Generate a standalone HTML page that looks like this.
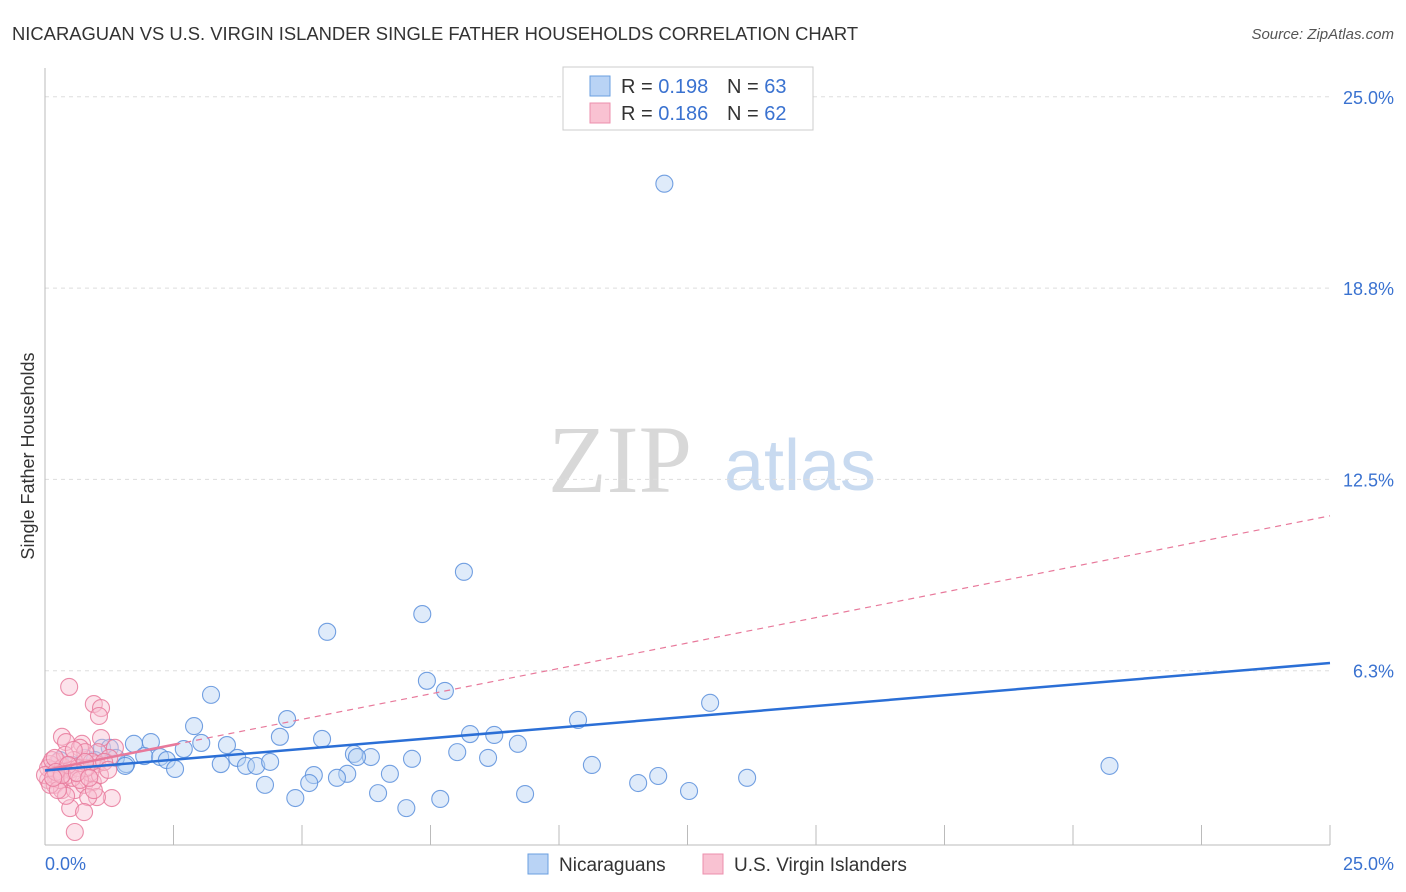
<!DOCTYPE html>
<html><head><meta charset="utf-8"><style>
body{margin:0;background:#fff;font-family:"Liberation Sans",sans-serif;}
#wrap{position:relative;width:1406px;height:892px;overflow:hidden;}
</style></head><body>
<div id="wrap">
<svg id="chart" width="1406" height="892" xmlns="http://www.w3.org/2000/svg">
<text x="12" y="40" font-size="18.4" fill="#333">NICARAGUAN VS U.S. VIRGIN ISLANDER SINGLE FATHER HOUSEHOLDS CORRELATION CHART</text>
<text x="1394" y="39" font-size="15" fill="#555" font-style="italic" text-anchor="end">Source: ZipAtlas.com</text>
<text x="620" y="492" font-size="96" fill="#d8d8d8" font-family="Liberation Serif,serif" text-anchor="middle">ZIP</text>
<text x="800" y="490" font-size="72" fill="#c8daf0" text-anchor="middle">atlas</text>
<text transform="translate(34,456) rotate(-90)" font-size="18" fill="#333" text-anchor="middle">Single Father Households</text>
<g id="grid"></g><g id="axes"></g><g id="marks"></g>
<rect x="563" y="67" width="250" height="63" fill="#fff" stroke="#ccc"/>
<rect x="590" y="76" width="20" height="20" fill="#b9d3f5" stroke="#6a9fe0"/>
<text x="621" y="93" font-size="20" fill="#333">R = <tspan fill="#3a72d0">0.198</tspan></text>
<text x="727" y="93" font-size="20" fill="#333">N = <tspan fill="#3a72d0">63</tspan></text>
<rect x="590" y="103" width="20" height="20" fill="#f9c2d2" stroke="#ec8fac"/>
<text x="621" y="120" font-size="20" fill="#333">R = <tspan fill="#3a72d0">0.186</tspan></text>
<text x="727" y="120" font-size="20" fill="#333">N = <tspan fill="#3a72d0">62</tspan></text>
<text x="45" y="870" font-size="18" fill="#3a72d0">0.0%</text>
<text x="1394" y="870" font-size="18" fill="#3a72d0" text-anchor="end">25.0%</text>
<rect x="528" y="854" width="20" height="20" fill="#b9d3f5" stroke="#6a9fe0"/>
<text x="559" y="871" font-size="19" fill="#333">Nicaraguans</text>
<rect x="703" y="854" width="20" height="20" fill="#f9c2d2" stroke="#ec8fac"/>
<text x="734" y="871" font-size="19" fill="#333">U.S. Virgin Islanders</text>
</svg>
</div>
<script>
const yTicks=[25,18.75,12.5,6.25];
const yTickLabels=["25.0%","18.8%","12.5%","6.3%"];
const blueX=[12.05,8.15,7.34,5.49,7.43,7.78,12.94,3.23,4.71,2.90,10.37,8.27,8.74,5.39,4.57,2.06,1.73,1.11,1.26,3.04,3.54,2.70,9.20,8.02,6.01,6.34,6.07,1.93,3.74,2.24,2.37,1.58,3.42,3.91,4.11,4.38,7.14,8.62,2.53,5.23,10.64,20.71,11.93,5.88,6.71,13.66,11.54,4.28,5.14,5.68,6.48,12.53,9.34,4.87,7.69,7.03,1.38,0.78,0.97,0.29,0.53,0.19,1.56];
const blueY=[22.16,9.48,8.10,7.52,5.92,5.59,5.20,5.46,4.67,4.44,4.64,4.18,4.15,4.02,4.09,3.92,3.86,3.73,3.73,3.89,3.82,3.69,3.86,3.59,3.53,3.43,3.43,3.46,3.40,3.43,3.33,3.20,3.20,3.14,3.14,3.27,3.37,3.40,3.04,2.84,3.17,3.14,2.81,2.88,2.88,2.75,2.58,2.52,2.58,2.75,2.25,2.32,2.22,2.09,2.06,1.76,3.40,3.40,3.33,3.33,3.17,3.01,3.14];
const pinkX=[0.47,0.95,1.09,1.05,0.33,0.41,1.09,0.72,0.68,1.36,1.03,0.78,1.25,1.01,0.56,0.25,0.10,0.14,0.29,0.06,0.19,0.33,0.58,0.76,0.93,1.30,1.01,0.84,0.49,0.76,0.58,0.88,1.07,0.45,0.21,0.06,0.14,0.0,0.35,0.49,0.64,0.80,0.91,0.39,0.19,0.29,0.53,0.68,0.10,0.41,0.25,1.15,1.23,0.95,0.78,0.56,0.45,0.21,0.33,0.62,0.86,0.16];
const pinkY=[5.72,5.16,5.03,4.77,4.09,3.92,4.05,3.86,3.73,3.73,3.59,3.59,3.40,3.20,3.33,3.27,3.20,3.01,2.94,2.68,2.52,2.35,2.35,2.52,2.61,2.09,2.12,2.12,1.76,1.63,0.98,2.91,2.84,2.84,2.81,3.07,3.33,2.84,3.10,3.01,3.07,3.07,3.27,3.50,3.40,2.68,2.75,2.68,2.52,2.16,2.35,3.27,3.01,2.35,3.27,3.66,3.17,2.94,2.84,2.91,2.75,2.75];
const blueTrend=[2.99,6.50];
const pinkTrend=[3.0,11.31];
const NS="http://www.w3.org/2000/svg";
const X=v=>45+v/25*1285;
const Y=v=>862-v/6.25*191.3;
function mk(tag,attrs,parent){const e=document.createElementNS(NS,tag);for(const k in attrs)e.setAttribute(k,attrs[k]);parent.appendChild(e);return e;}
const grid=document.getElementById('grid'),axes=document.getElementById('axes'),marks=document.getElementById('marks');
yTicks.forEach((t,i)=>{
  const l=mk('line',{x1:45,x2:1330,y1:Y(t),y2:Y(t),stroke:'#ddd','stroke-dasharray':'4,4'},grid);
  
  
  const tx=mk('text',{x:1394,y:Y(t)+7,'font-size':18,fill:'#3a72d0','text-anchor':'end'},grid);
  tx.textContent=yTickLabels[i];
  
  
});
const la=mk('line',{x1:45,x2:45,y1:68,y2:845,stroke:'#bbb'},axes);


const ba=mk('line',{x1:45,x2:1330,y1:845,y2:845,stroke:'#bbb'},axes);


for(let i=1;i<=10;i++){
  const tk=mk('line',{x1:X(i*2.5),x2:X(i*2.5),y1:825,y2:845,stroke:'#bbb'},axes);
  
  
}
function dots(xs,ys,fill,stroke,name){
  xs.forEach((x,i)=>{
    const c=mk('circle',{cx:X(x),cy:Y(ys[i]),r:8.5,fill:fill,'fill-opacity':0.45,stroke:stroke,'stroke-width':1.1,'stroke-opacity':0.85},marks);
    
    
  });
}
dots(blueX,blueY,'#b9d3f5','#5a8fdc','nicaraguan-point');
dots(pinkX,pinkY,'#f9c2d2','#e8799b','virgin-islander-point');
const pt=mk('line',{x1:X(0),y1:Y(pinkTrend[0]),x2:X(25),y2:Y(pinkTrend[1]),stroke:'#e8799b','stroke-width':1.2,'stroke-dasharray':'6,5'},marks);


const pe=2.6, ps=mk('line',{x1:X(0),y1:Y(pinkTrend[0]),x2:X(pe),y2:Y(pinkTrend[0]+(pinkTrend[1]-pinkTrend[0])*pe/25),stroke:'#e8799b','stroke-width':2.5},marks);


const bt=mk('line',{x1:X(0),y1:Y(blueTrend[0]),x2:X(25),y2:Y(blueTrend[1]),stroke:'#2b6fd6','stroke-width':2.5},marks);


</script>
</body></html>
